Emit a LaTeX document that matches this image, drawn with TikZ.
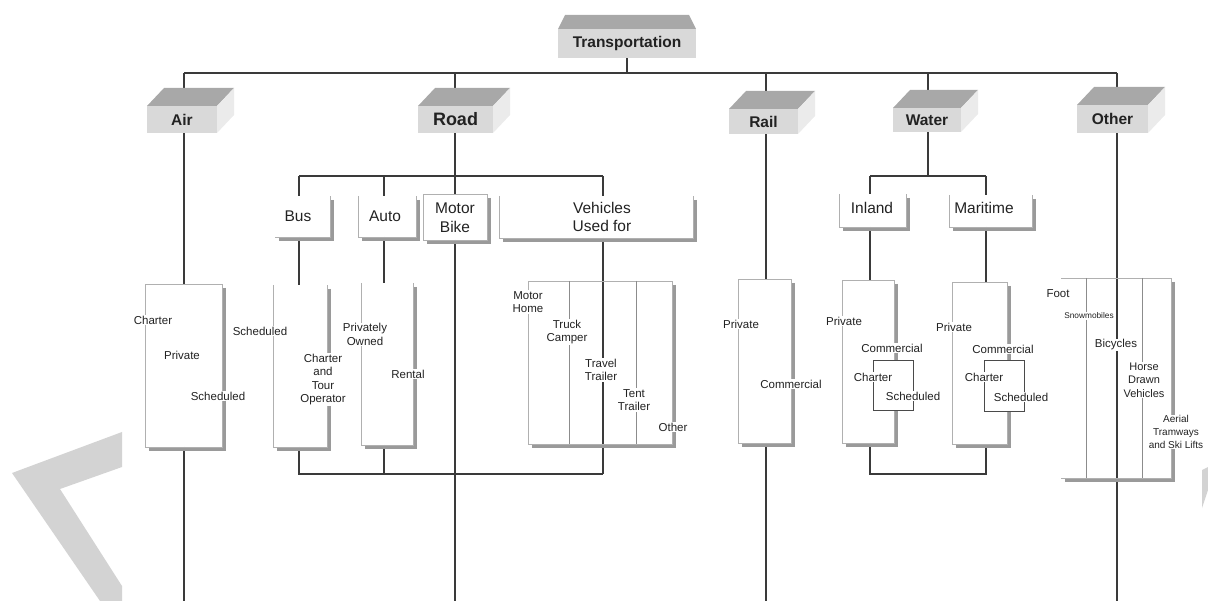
\documentclass[tikz,border=0pt]{standalone}
\usepackage{fontspec}
\setmainfont{Liberation Sans}
\usetikzlibrary{calc}
\definecolor{lineC}{HTML}{3A3A3A}
\definecolor{edgeC}{HTML}{B0B0B0}
\definecolor{innerC}{HTML}{8C8C8C}
\definecolor{shadC}{HTML}{9A9A9A}
\definecolor{frontC}{HTML}{D9D9D9}
\definecolor{topC}{HTML}{A8A8A8}
\definecolor{sideC}{HTML}{EBEBEB}
\definecolor{txtC}{HTML}{222222}
\definecolor{wmC}{HTML}{D3D3D3}
\definecolor{subC}{HTML}{4A4A4A}
\pgfdeclarelayer{bg}
\pgfsetlayers{bg,main}
\newcommand\catfont{\bfseries\fontsize{15.5}{18}\selectfont}
\newcommand\roadfont{\bfseries\fontsize{18}{21}\selectfont}
\newcommand\subfont{\fontsize{15.5}{18.5}\selectfont}
\newcommand\lblfont{\fontsize{11.5}{13.6}\selectfont}
\newcommand\regionbox[5]{\node[region, minimum width={#4pt-#2pt}, minimum height={#5pt-#3pt}] (#1) at ({(#2+#4)/2},{(#3+#5)/2}) {};}
\newcommand\catcube[1]{%
  \fill[topC] (#1.north west) -- ++(17,-18) -- ($(#1.north east)+(17,-18)$) -- (#1.north east) -- cycle;
  \fill[sideC] (#1.north east) -- ++(17,-18) -- ($(#1.south east)+(17,-18)$) -- (#1.south east) -- cycle;}
\newcommand\rbshadow[1]{\draw[shad] ([shift={(2.5pt,-4pt)}]#1.north east) -- ([shift={(2.5pt,-2.5pt)}]#1.south east) -- ([shift={(4pt,-2.5pt)}]#1.south west);}
\newcommand\edgesLBR[1]{\draw[edge] (#1.north west) -- (#1.south west) -- (#1.south east) -- (#1.north east);}
\newcommand\edgesFull[1]{\draw[edge] (#1.north west) rectangle (#1.south east);}
\newcommand\edgesBR[1]{\draw[edge] (#1.south west) -- (#1.south east) -- (#1.north east);}
\newcommand\edgesTRB[1]{\draw[edge] (#1.south west) -- (#1.south east) -- (#1.north east) -- (#1.north west);}
\begin{document}
\begin{tikzpicture}[x=1pt,y=-1pt,
  conn/.style={draw=lineC, line width=1.3pt},
  edge/.style={draw=edgeC, line width=0.9pt},
  inner/.style={draw=innerC, line width=1pt},
  shad/.style={draw=shadC, line width=3pt},
  front/.style={fill=frontC, inner sep=0pt, outer sep=0pt, text=txtC, font=\catfont},
  region/.style={inner sep=0pt, outer sep=0pt},
  lbl/.style={fill=white, inner sep=0.8pt, align=center, text=txtC, font=\lblfont},
  sub/.style={inner sep=0pt, align=center, text=txtC, font=\subfont},
  subbox/.style={draw=subC, line width=1pt, fill=white, inner sep=0pt, outer sep=0pt},
]
\useasboundingbox (0,0) rectangle (1208,601);
% trunk coordinates
\coordinate (xAir) at (184,0);
\coordinate (xRoad) at (455,0);
\coordinate (xBus) at (299,0);
\coordinate (xAuto) at (384,0);
\coordinate (xVeh) at (603,0);
\coordinate (xRail) at (766,0);
\coordinate (xWater) at (928,0);
\coordinate (xInl) at (870,0);
\coordinate (xMar) at (986,0);
\coordinate (xOth) at (1117,0);
\coordinate (xV1) at (569,0);
\coordinate (xV2) at (636,0);
\coordinate (xO1) at (1086,0);
\coordinate (xO2) at (1142,0);
\coordinate (hTop) at (0,73);
\coordinate (hRoad) at (0,176);
\coordinate (hRoadB) at (0,474);
\coordinate (hWat) at (0,176);
\coordinate (hWatB) at (0,474);
\coordinate (yBot) at (0,601);
% category boxes
\node[front, minimum width=138pt, minimum height=29pt] (trans) at (627,43.5) {Transportation};
\fill[topC] (trans.north west) -- ++(7,-14) -- ($(trans.north east)+(-7,-14)$) -- (trans.north east) -- cycle;
\node[front, minimum width=70pt, minimum height=27pt] (air) at (182,119.5) {Air};
\node[front, minimum width=75pt, minimum height=27pt, font=\roadfont] (road) at (455.5,119.5) {Road};
\node[front, minimum width=69pt, minimum height=25pt] (rail) at (763.5,121.5) {Rail};
\node[front, minimum width=68pt, minimum height=24pt] (water) at (927,120) {Water};
\node[front, minimum width=71pt, minimum height=28pt] (other) at (1112.5,119) {Other};
\catcube{air}\catcube{road}\catcube{rail}\catcube{water}\catcube{other}
% sub boxes (regions)
\regionbox{bus}{275}{196}{330}{237}
\regionbox{auto}{358}{196}{416}{237}
\regionbox{mbike}{423}{194}{487}{240}
\regionbox{veh}{499}{196}{693}{238}
\regionbox{inland}{839}{194}{906}{227}
\regionbox{marit}{949}{195}{1032}{227}
\regionbox{airlow}{145}{284}{222}{447}
\regionbox{buslow}{273}{285}{327}{447}
\regionbox{autolow}{361}{283}{413}{445}
\regionbox{vehlow}{528}{281}{672}{444}
\regionbox{raillow}{738}{279}{791}{443}
\regionbox{inlow}{842}{280}{894}{443}
\regionbox{marlow}{952}{282}{1007}{444}
\regionbox{othlow}{1061}{278}{1171}{478}
% shadows
\foreach \b in {bus,auto,mbike,veh,inland,marit,airlow,buslow,autolow,vehlow,raillow,inlow,marlow,othlow}{\rbshadow{\b}}
% edges
\edgesBR{bus}
\edgesLBR{auto}
\edgesFull{mbike}
\edgesLBR{veh}
\edgesLBR{inland}
\edgesLBR{marit}
\edgesFull{airlow}
\edgesLBR{buslow}
\edgesLBR{autolow}
\edgesFull{vehlow}
\edgesFull{raillow}
\edgesFull{inlow}
\edgesFull{marlow}
\edgesTRB{othlow}
\draw[inner] (xV1 |- vehlow.north) -- (xV1 |- vehlow.south);
\draw[inner] (xV2 |- vehlow.north) -- (xV2 |- vehlow.south);
\draw[inner] (xO1 |- othlow.north) -- (xO1 |- othlow.south);
\draw[inner] (xO2 |- othlow.north) -- (xO2 |- othlow.south);
\node[subbox, minimum width=40pt, minimum height=50pt] (insub) at (893,386) {};
\node[subbox, minimum width=40pt, minimum height=51pt] (marsub) at (1004,386.5) {};
% connectors
\begin{pgfonlayer}{bg}
\fill[wmC] (122,432) -- (12,473) -- (100,601) -- (122,601) -- (122,586) -- (60,489) -- (122,467) -- cycle;
\fill[wmC] (1202,470) -- (1208,467) -- (1208,490) -- (1202,508) -- cycle;
\draw[conn] (xAir |- hTop) -- (xOth |- hTop);
\draw[conn] (trans.center) -- (trans.center |- hTop);
\draw[conn] (xAir |- hTop) -- (xAir |- airlow.north);
\draw[conn] (xAir |- airlow.south) -- (xAir |- yBot);
\draw[conn] (xRoad |- hTop) -- (xRoad |- mbike.north);
\draw[conn] (xRoad |- mbike.south) -- (xRoad |- yBot);
\draw[conn] (xBus |- hRoad) -- (xVeh |- hRoad);
\draw[conn] (xBus |- hRoad) -- (xBus |- bus.north);
\draw[conn] (xAuto |- hRoad) -- (xAuto |- auto.north);
\draw[conn] (xVeh |- hRoad) -- (xVeh |- veh.north);
\draw[conn] (xBus |- bus.south) -- (xBus |- buslow.north);
\draw[conn] (xAuto |- auto.south) -- (xAuto |- autolow.north);
\draw[conn] (xBus |- buslow.south) -- (xBus |- hRoadB) -- (xVeh |- hRoadB);
\draw[conn] (xAuto |- autolow.south) -- (xAuto |- hRoadB);
\draw[conn] (xVeh |- veh.south) -- (xVeh |- hRoadB);
\draw[conn] (xRail |- hTop) -- (xRail |- raillow.north);
\draw[conn] (xRail |- raillow.south) -- (xRail |- yBot);
\draw[conn] (xWater |- hTop) -- (xWater |- hWat);
\draw[conn] (xInl |- hWat) -- (xMar |- hWat);
\draw[conn] (xInl |- hWat) -- (xInl |- inland.north);
\draw[conn] (xMar |- hWat) -- (xMar |- marit.north);
\draw[conn] (xInl |- inland.south) -- (xInl |- inlow.north);
\draw[conn] (xMar |- marit.south) -- (xMar |- marlow.north);
\draw[conn] (xInl |- inlow.south) -- (xInl |- hWatB) -- (xMar |- hWatB) -- (xMar |- marlow.south);
\draw[conn] (xOth |- hTop) -- (xOth |- yBot);
\end{pgfonlayer}
% upper sub labels
\node[sub] (busT) at (298,216) {Bus};
\node[sub] (autoT) at (385,216) {Auto};
\node[sub] (mbikeT) at (455,217.5) {Motor\\Bike};
\node[sub] (vehT) at (602,217) {Vehicles\\Used for};
\node[sub] (inlandT) at (872,208) {Inland};
\node[sub] (maritT) at (984,208) {Maritime};
% lower labels
\node[lbl] (a1) at (153,320) {Charter};
\node[lbl] (a2) at (182,355) {Private};
\node[lbl] (a3) at (218,396) {Scheduled};
\node[lbl] (b1) at (260,331) {Scheduled};
\node[lbl] (b2) at (323,379.5) {Charter\\and\\Tour\\Operator};
\node[lbl] (c1) at (365,334.5) {Privately\\Owned};
\node[lbl] (c2) at (408,374) {Rental};
\node[lbl] (v1) at (528,302) {Motor\\Home};
\node[lbl] (v2) at (567,332) {Truck\\Camper};
\node[lbl] (v3) at (601,370) {Travel\\Trailer};
\node[lbl] (v4) at (634,400) {Tent\\Trailer};
\node[lbl] (v5) at (673,427) {Other};
\node[lbl] (r1) at (741,324) {Private};
\node[lbl] (r2) at (791,384) {Commercial};
\node[lbl] (i1) at (844,321) {Private};
\node[lbl] (i2) at (892,348) {Commercial};
\node[lbl] (i3) at (873,377) {Charter};
\node[lbl] (i4) at (913,396) {Scheduled};
\node[lbl] (m1) at (954,327) {Private};
\node[lbl] (m2) at (1003,349) {Commercial};
\node[lbl] (m3) at (984,377) {Charter};
\node[lbl] (m4) at (1021,397) {Scheduled};
\node[lbl] (o1) at (1058,294) {Foot};
\node[lbl, font=\fontsize{8.3}{9}\selectfont] (o2) at (1089,316) {Snowmobiles};
\node[lbl] (o3) at (1116,345) {Bicycles};
\node[lbl, font=\fontsize{11}{13.4}\selectfont] (o4) at (1144,380) {Horse\\Drawn\\Vehicles};
\node[lbl, font=\fontsize{10}{13}\selectfont] (o5) at (1176,432) {Aerial\\Tramways\\and Ski Lifts};
\end{tikzpicture}
\end{document}
